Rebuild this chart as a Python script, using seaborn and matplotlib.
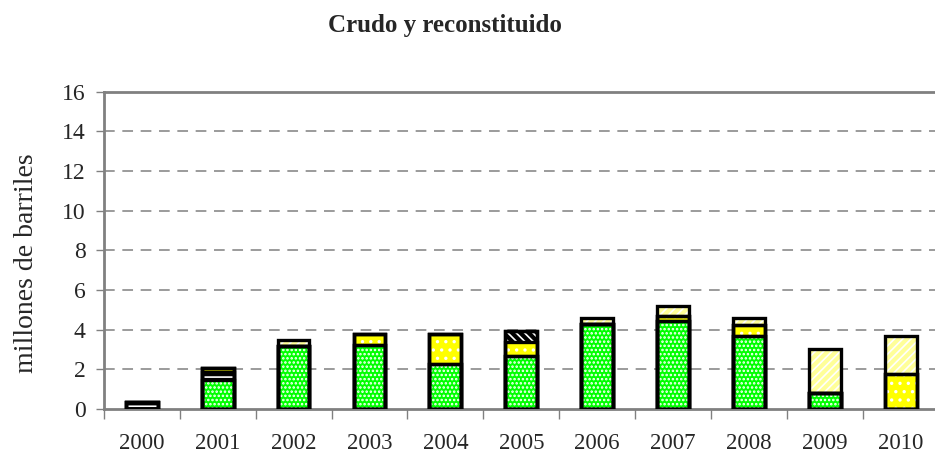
"""Stacked bar chart: crudo y reconstituido, millones de barriles por año."""

import matplotlib
matplotlib.use("Agg")
import matplotlib.pyplot as plt
import numpy as np
import pandas as pd
import seaborn as sns

# values (millones de barriles)
years = ["2000", "2001", "2002", "2003", "2004", "2005", "2006", "2007", "2008", "2009", "2010"]
green_dotted = [0.0, 1.45, 3.2, 3.25, 2.25, 2.65, 4.3, 4.45, 3.7, 0.8, 0.0]
black_dashed = [0.35, 0.4, 0.0, 0.0, 0.0, 0.0, 0.0, 0.0, 0.0, 0.0, 0.0]
yellow = [0.0, 0.2, 0.0, 0.55, 1.55, 0.75, 0.0, 0.25, 0.55, 0.0, 1.75]
black_diag = [0.0, 0.0, 0.0, 0.0, 0.0, 0.55, 0.0, 0.0, 0.0, 0.0, 0.0]
light_yellow = [0.0, 0.0, 0.3, 0.0, 0.0, 0.0, 0.3, 0.5, 0.35, 2.2, 1.95]

yticks = [0, 2, 4, 6, 8, 10, 12, 14, 16]

sns.set_theme(style="white")
plt.rcParams["font.family"] = ["Liberation Serif", "DejaVu Serif"]
plt.rcParams["hatch.linewidth"] = 1.2

# bottom-to-top stacking order with fill colour and white hatch pattern
layers = [
    ("green", green_dotted, "#00FF00", "...."),
    ("black_dashed", black_dashed, "#000000", "----"),
    ("yellow", yellow, "#FFFF00", ".."),
    ("black_diag", black_diag, "#000000", "\\\\\\\\"),
    ("light_yellow", light_yellow, "#FFFF99", "////"),
]

df = pd.DataFrame({"year": years})
running = np.zeros(len(years))
for name, vals, _, _ in layers:
    running = running + np.array(vals)
    df[name] = running

fig = plt.figure(figsize=(9.35, 4.59), dpi=100)
ax = fig.add_axes([0.111, 0.109, 0.893, 0.691])

GRAY = "#808080"
for y in yticks[1:-1]:
    ax.axhline(y, color=GRAY, lw=1.1, linestyle=(0, (7, 5)), zorder=0)

# draw cumulative totals from the top layer down so lower layers cover upper ones
for name, _, colour, hatch in reversed(layers):
    sns.barplot(data=df, x="year", y=name, color=colour, saturation=1,
                width=0.42, edgecolor="white", linewidth=0, hatch=hatch,
                errorbar=None, ax=ax, zorder=2)
    sns.barplot(data=df, x="year", y=name, color="black", fill=False,
                width=0.42, linewidth=2.4, errorbar=None, ax=ax, zorder=3)

ax.set_ylim(0, 16)
ax.set_xlim(-0.5, len(years) - 0.5)
ax.set_yticks(yticks)
ax.set_yticklabels([str(t) for t in yticks], fontsize=17)
ax.set_xticks(range(len(years)))
ax.set_xticklabels(years, fontsize=16.5)
ax.set_xticks(np.arange(-0.5, len(years), 1.0), minor=True)
ax.tick_params(axis="x", which="major", length=0, pad=17)
ax.tick_params(axis="x", which="minor", length=7, width=1, color=GRAY, direction="out", bottom=True)
ax.tick_params(axis="y", length=6, width=1, color=GRAY, direction="out", left=True, pad=7)
ax.set_xlabel("")
ax.set_ylabel("millones de barriles", fontsize=20)
ax.yaxis.set_label_coords(-0.077, 0.46)

for side in ["left", "bottom", "top", "right"]:
    ax.spines[side].set_visible(True)
    ax.spines[side].set_color(GRAY)
    ax.spines[side].set_linewidth(2)

fig.text(0.476, 0.945, "Crudo y reconstituido", ha="center", va="center",
         fontsize=18, fontweight="bold")

fig.savefig("out.png", dpi=100, facecolor="white")
